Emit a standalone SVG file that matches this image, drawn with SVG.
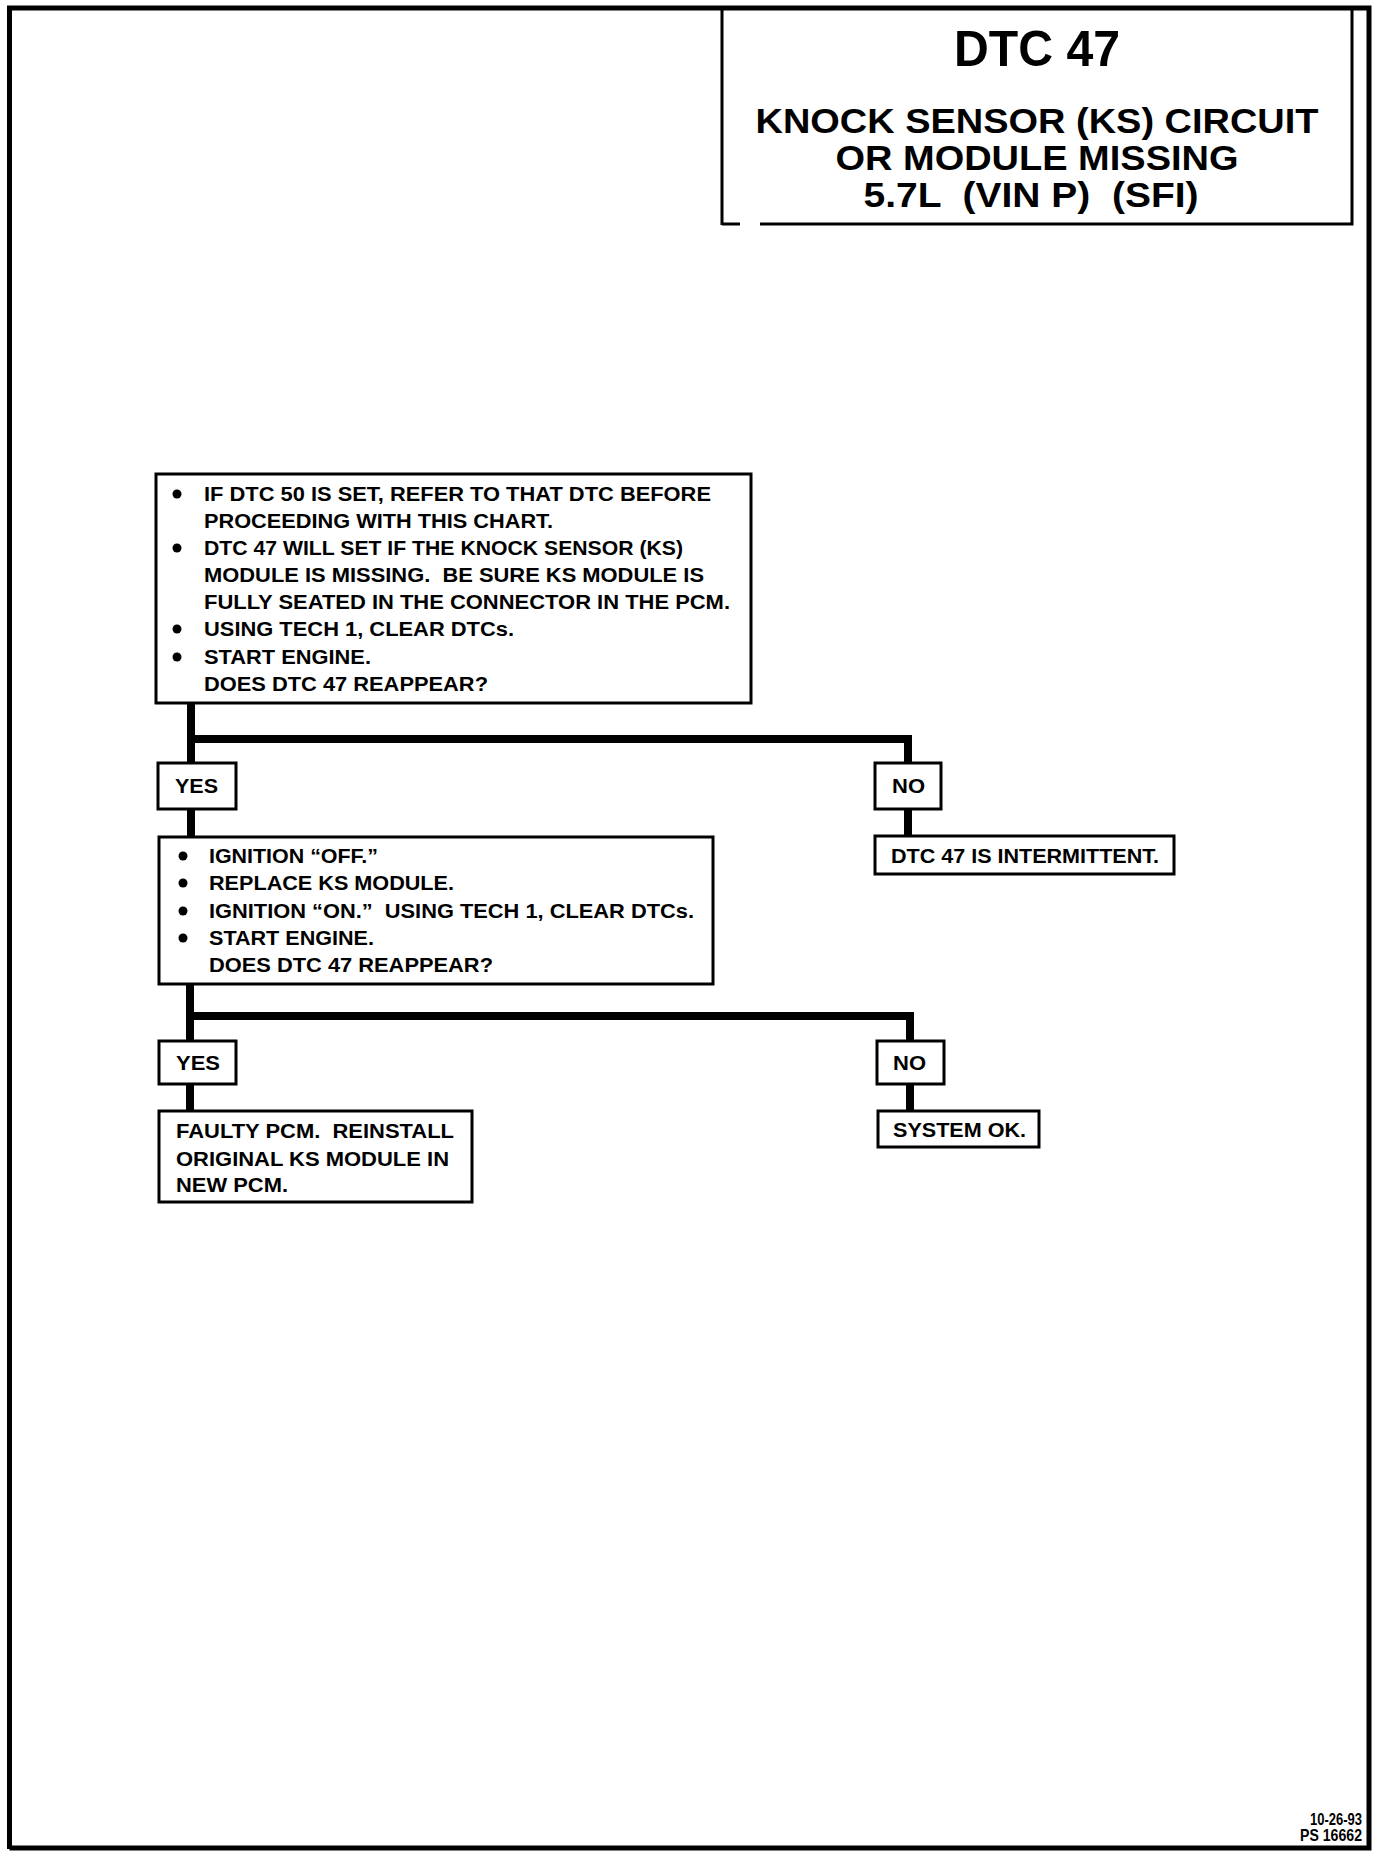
<svg xmlns="http://www.w3.org/2000/svg" width="1376" height="1852" viewBox="0 0 1376 1852">
<style>
.t{font-family:"Liberation Sans",Arial,sans-serif;font-weight:bold;fill:#000}
.b{font-size:20px}
.box{fill:#fff;stroke:#000;stroke-width:3}
.c{fill:none;stroke:#000;stroke-width:8;stroke-linejoin:miter;stroke-linecap:butt}
</style>
<defs>
<circle id="dot" r="4.5" fill="#000"/>
</defs>
<rect width="1376" height="1852" fill="#fff"/>
<g id="page-border">
<path d="M9.5 1849 V8 H1369 V1848 H9.5" fill="none" stroke="#000" stroke-width="5"/>
</g>
<g id="title">
<path d="M722 8 V225 M722 224 H740 M760 224 H1352 V8" fill="none" stroke="#000" stroke-width="3"/>
<text class="t" x="1037" y="66" font-size="50" text-anchor="middle" textLength="166" lengthAdjust="spacingAndGlyphs">DTC 47</text>
<text class="t" x="1037" y="133" font-size="35" text-anchor="middle" textLength="563" lengthAdjust="spacingAndGlyphs">KNOCK SENSOR (KS) CIRCUIT</text>
<text class="t" x="1037" y="170" font-size="35" text-anchor="middle" textLength="403" lengthAdjust="spacingAndGlyphs">OR MODULE MISSING</text>
<text class="t" x="1031" y="207" font-size="35" text-anchor="middle" textLength="335" lengthAdjust="spacingAndGlyphs" xml:space="preserve">5.7L  (VIN P)  (SFI)</text>
</g>
<g id="connectors">
<path class="c" d="M191 703 V837"/>
<path class="c" d="M191 739 H908 V837"/>
<path class="c" d="M190 984 V1111"/>
<path class="c" d="M190 1016 H910 V1111"/>
</g>
<g id="box1">
<rect class="box" x="156" y="474" width="595" height="229"/>
<use href="#dot" x="177" y="494"/>
<use href="#dot" x="177" y="548"/>
<use href="#dot" x="177" y="629"/>
<use href="#dot" x="177" y="657"/>
<text class="t b" x="204" y="501" textLength="507" lengthAdjust="spacingAndGlyphs">IF DTC 50 IS SET, REFER TO THAT DTC BEFORE</text>
<text class="t b" x="204" y="528" textLength="349" lengthAdjust="spacingAndGlyphs">PROCEEDING WITH THIS CHART.</text>
<text class="t b" x="204" y="555" textLength="479" lengthAdjust="spacingAndGlyphs">DTC 47 WILL SET IF THE KNOCK SENSOR (KS)</text>
<text class="t b" x="204" y="582" textLength="500" lengthAdjust="spacingAndGlyphs" xml:space="preserve">MODULE IS MISSING.  BE SURE KS MODULE IS</text>
<text class="t b" x="204" y="609" textLength="526" lengthAdjust="spacingAndGlyphs">FULLY SEATED IN THE CONNECTOR IN THE PCM.</text>
<text class="t b" x="204" y="636" textLength="310" lengthAdjust="spacingAndGlyphs">USING TECH 1, CLEAR DTCs.</text>
<text class="t b" x="204" y="664" textLength="167" lengthAdjust="spacingAndGlyphs">START ENGINE.</text>
<text class="t b" x="204" y="691" textLength="284" lengthAdjust="spacingAndGlyphs">DOES DTC 47 REAPPEAR?</text>
</g>
<g id="yes1">
<rect class="box" x="158" y="763" width="78" height="46"/>
<text class="t b" x="175" y="793" textLength="43" lengthAdjust="spacingAndGlyphs">YES</text>
</g>
<g id="no1">
<rect class="box" x="875" y="763" width="66" height="46"/>
<text class="t b" x="892" y="793" textLength="33" lengthAdjust="spacingAndGlyphs">NO</text>
</g>
<g id="intermittent">
<rect class="box" x="875" y="836" width="299" height="38"/>
<text class="t b" x="891" y="863" textLength="268" lengthAdjust="spacingAndGlyphs">DTC 47 IS INTERMITTENT.</text>
</g>
<g id="box2">
<rect class="box" x="159" y="837" width="554" height="147"/>
<use href="#dot" x="183" y="856"/>
<use href="#dot" x="183" y="883"/>
<use href="#dot" x="183" y="911"/>
<use href="#dot" x="183" y="938"/>
<text class="t b" x="209" y="863" textLength="169" lengthAdjust="spacingAndGlyphs">IGNITION “OFF.”</text>
<text class="t b" x="209" y="890" textLength="245" lengthAdjust="spacingAndGlyphs">REPLACE KS MODULE.</text>
<text class="t b" x="209" y="918" textLength="485" lengthAdjust="spacingAndGlyphs" xml:space="preserve">IGNITION “ON.”  USING TECH 1, CLEAR DTCs.</text>
<text class="t b" x="209" y="945" textLength="165" lengthAdjust="spacingAndGlyphs">START ENGINE.</text>
<text class="t b" x="209" y="972" textLength="284" lengthAdjust="spacingAndGlyphs">DOES DTC 47 REAPPEAR?</text>
</g>
<g id="yes2">
<rect class="box" x="159" y="1041" width="77" height="43"/>
<text class="t b" x="176" y="1070" textLength="44" lengthAdjust="spacingAndGlyphs">YES</text>
</g>
<g id="no2">
<rect class="box" x="877" y="1041" width="67" height="43"/>
<text class="t b" x="893" y="1070" textLength="33" lengthAdjust="spacingAndGlyphs">NO</text>
</g>
<g id="faulty">
<rect class="box" x="159" y="1111" width="313" height="91"/>
<text class="t b" x="176" y="1138" textLength="278" lengthAdjust="spacingAndGlyphs" xml:space="preserve">FAULTY PCM.  REINSTALL</text>
<text class="t b" x="176" y="1166" textLength="273" lengthAdjust="spacingAndGlyphs">ORIGINAL KS MODULE IN</text>
<text class="t b" x="176" y="1192" textLength="112" lengthAdjust="spacingAndGlyphs">NEW PCM.</text>
</g>
<g id="systemok">
<rect class="box" x="878" y="1111" width="161" height="36"/>
<text class="t b" x="893" y="1137" textLength="133" lengthAdjust="spacingAndGlyphs">SYSTEM OK.</text>
</g>
<g id="footer">
<text class="t" x="1362" y="1825" font-size="17" text-anchor="end" textLength="52" lengthAdjust="spacingAndGlyphs">10-26-93</text>
<text class="t" x="1362" y="1841" font-size="17" text-anchor="end" textLength="62" lengthAdjust="spacingAndGlyphs">PS 16662</text>
</g>
</svg>
